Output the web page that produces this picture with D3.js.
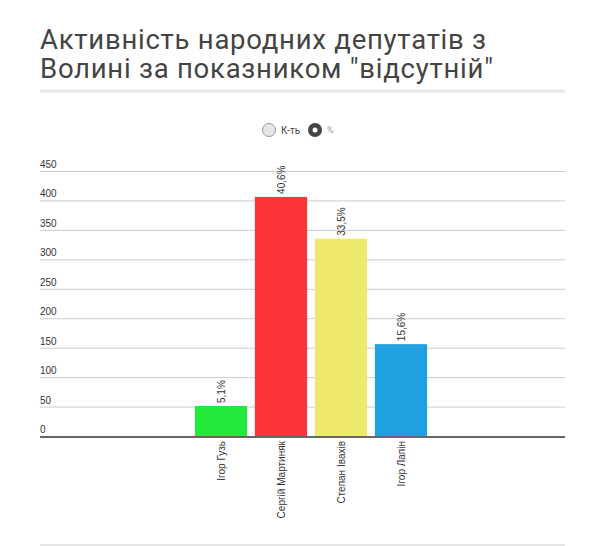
<!DOCTYPE html>
<html>
<head>
<meta charset="utf-8">
<script src="https://cdn.jsdelivr.net/npm/d3@7"></script>
<style>
  html, body { margin: 0; padding: 0; background: #fff; }
  svg { display: block; }
</style>
</head>
<body>
<div class="draw-area"></div>
<script>
// Chart data
const titleLines = ["Активність народних депутатів з", "Волині за показником \"відсутній\""];
const deputies = ["Ігор Гузь", "Сергій Мартиняк", "Степан Івахів", "Ігор Лапін"];
const absences = [51, 406, 335, 156];
const shares = ["5,1%", "40,6%", "33,5%", "15,6%"];
const barColors = ["#22ea3b", "#fc3339", "#ede96b", "#1fa0e1"];
const yTicks = [0, 50, 100, 150, 200, 250, 300, 350, 400, 450];
const legendItems = ["К-ть", "%"];

const width = 609, height = 546;
const plot = { left: 40, right: 565, top: 171, bottom: 436 };

const svg = d3.select(".draw-area")
    .append("svg")
    .attr("width", width)
    .attr("height", height);

// Title
svg.append("g")
    .selectAll("text")
    .data(titleLines)
    .join("text")
    .attr("x", 40)
    .attr("y", (d, i) => 49 + i * 29)
    .attr("font-family", "Roboto, sans-serif")
    .attr("font-size", 27.5)
    .attr("letter-spacing", 0.75)
    .attr("fill", "#444")
    .text(d => d);

// Underline below title
svg.append("line")
    .attr("x1", 40).attr("x2", 565)
    .attr("y1", 91).attr("y2", 91)
    .attr("stroke", "#e6e6e6")
    .attr("stroke-width", 3);

// Legend (radio toggles)
const legend = svg.append("g").attr("font-family", "Roboto, sans-serif");
legend.append("circle")
    .attr("cx", 269).attr("cy", 130).attr("r", 6.5)
    .attr("fill", "#e6e6e6").attr("stroke", "#999").attr("stroke-width", 1);
legend.append("text")
    .attr("x", 281).attr("y", 133.5)
    .attr("font-size", 10).attr("fill", "#444")
    .text(legendItems[0]);
legend.append("circle")
    .attr("cx", 315).attr("cy", 130).attr("r", 7)
    .attr("fill", "#444");
legend.append("circle")
    .attr("cx", 315).attr("cy", 130).attr("r", 2.5)
    .attr("fill", "#fff");
legend.append("text")
    .attr("x", 327).attr("y", 133)
    .attr("font-size", 9).attr("fill", "#999")
    .text(legendItems[1]);

// Scales
const x = d3.scaleBand()
    .domain(deputies)
    .range([191, 431])
    .paddingInner(0.13)
    .paddingOuter(0.065);

const y = d3.scaleLinear()
    .domain([0, 450])
    .range([plot.bottom, plot.top]);

// Gridlines + tick labels
const grid = svg.append("g");
grid.selectAll("line")
    .data(yTicks.filter(d => d > 0))
    .join("line")
    .attr("x1", plot.left).attr("x2", plot.right)
    .attr("y1", d => y(d) + 0.5).attr("y2", d => y(d) + 0.5)
    .attr("stroke", "#ccc")
    .attr("stroke-width", 1);

grid.selectAll("text")
    .data(yTicks)
    .join("text")
    .attr("x", plot.left)
    .attr("y", d => y(d) - 3)
    .attr("font-family", "'Liberation Sans', Arial, sans-serif")
    .attr("font-size", 10)
    .attr("fill", "#333")
    .text(d => d);

// Bars
const rows = deputies.map((name, i) => ({ name, value: absences[i], share: shares[i], color: barColors[i] }));

svg.append("g")
    .selectAll("rect")
    .data(rows)
    .join("rect")
    .attr("x", d => x(d.name))
    .attr("y", d => y(d.value))
    .attr("width", x.bandwidth())
    .attr("height", d => y(0) - y(d.value))
    .attr("fill", d => d.color);

// Value labels (rotated)
svg.append("g")
    .selectAll("text")
    .data(rows)
    .join("text")
    .attr("transform", d => `translate(${x(d.name) + x.bandwidth() / 2 + 3.5},${y(d.value) - 3}) rotate(-90)`)
    .attr("font-family", "'Liberation Sans', Arial, sans-serif")
    .attr("font-size", 10)
    .attr("fill", "#333")
    .text(d => d.share);

// Baseline axis
svg.append("line")
    .attr("x1", plot.left).attr("x2", plot.right)
    .attr("y1", plot.bottom + 1).attr("y2", plot.bottom + 1)
    .attr("stroke", "#666")
    .attr("stroke-width", 2);

// Category labels (rotated)
svg.append("g")
    .selectAll("text")
    .data(deputies)
    .join("text")
    .attr("transform", d => `translate(${x(d) + x.bandwidth() / 2 + 3.5},${plot.bottom + 5}) rotate(-90)`)
    .attr("text-anchor", "end")
    .attr("font-family", "'Liberation Sans', Arial, sans-serif")
    .attr("font-size", 10)
    .attr("fill", "#333")
    .text(d => d);

// Bottom divider
svg.append("line")
    .attr("x1", 40).attr("x2", 565)
    .attr("y1", 545).attr("y2", 545)
    .attr("stroke", "#ddd")
    .attr("stroke-width", 1.5);
</script>
</body>
</html>
